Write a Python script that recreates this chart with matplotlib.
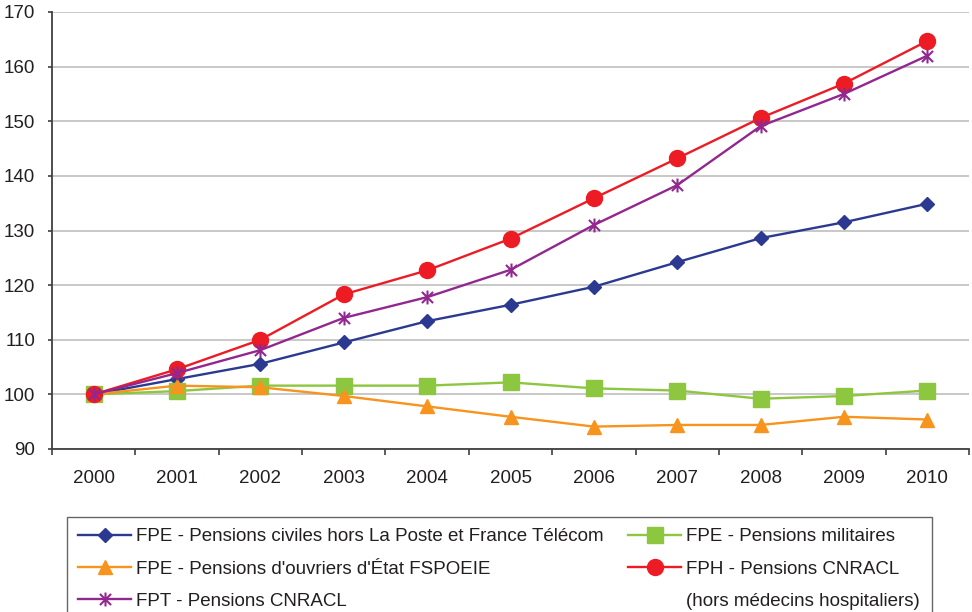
import numpy as np
import matplotlib
matplotlib.use("Agg")
from matplotlib import pyplot as plt
from matplotlib.path import Path
from matplotlib.lines import Line2D

plt.rcParams['font.family'] = ['Liberation Sans', 'DejaVu Sans']

# données (base 100 en 2000)
annees = ['2000', '2001', '2002', '2003', '2004', '2005', '2006', '2007', '2008', '2009', '2010']
fpe_civiles = [100, 102.8, 105.6, 109.5, 113.4, 116.4, 119.7, 124.2, 128.6, 131.5, 134.9]
fpe_militaires = [100, 100.6, 101.6, 101.6, 101.6, 102.2, 101.1, 100.7, 99.2, 99.7, 100.7]
fpe_ouvriers = [100, 101.6, 101.3, 99.7, 97.8, 95.9, 94.1, 94.4, 94.4, 95.9, 95.4]
fph_cnracl = [100, 104.6, 110.0, 118.3, 122.7, 128.5, 135.9, 143.2, 150.6, 156.9, 164.7]
fpt_cnracl = [100, 103.9, 108.1, 114.0, 117.8, 122.8, 131.0, 138.3, 149.1, 155.0, 162.0]

labels = ['FPE - Pensions civiles hors La Poste et France Télécom',
          'FPE - Pensions militaires',
          "FPE - Pensions d'ouvriers d'État FSPOEIE",
          'FPH - Pensions CNRACL',
          'FPT - Pensions CNRACL']
label_suite = '(hors médecins hospitaliers)'

yticks = [90, 100, 110, 120, 130, 140, 150, 160, 170]

# marqueur étoile façon Excel : X + trait vertical
etoile = Path([(-1, -1), (1, 1), (-1, 1), (1, -1), (0, -1.25), (0, 1.25)],
              [Path.MOVETO, Path.LINETO, Path.MOVETO, Path.LINETO, Path.MOVETO, Path.LINETO])

fig = plt.figure(figsize=(9.72, 6.12), dpi=100)
ax = fig.add_axes([52 / 972, 1 - 449 / 612, (969 - 52) / 972, (449 - 12) / 612])

x = np.arange(len(annees))
lw = 1.7
h_bleu, = ax.plot(x, fpe_civiles, '-', color='#2B3990', lw=lw, marker='D', ms=7.5, label=labels[0])
h_vert, = ax.plot(x, fpe_militaires, '-', color='#8DC63F', lw=lw, marker='s', ms=11.5, label=labels[1])
h_orange, = ax.plot(x, fpe_ouvriers, '-', color='#F7941D', lw=lw, marker='^', ms=10.5, label=labels[2])
h_rouge, = ax.plot(x, fph_cnracl, '-', color='#ED1C24', lw=lw, marker='o', ms=11.5, label=labels[3])
h_violet, = ax.plot(x, fpt_cnracl, '-', color='#92278F', lw=lw, marker=etoile, ms=10,
                    markeredgewidth=1.5, label=labels[4])

ax.set_xlim(-0.5, len(annees) - 0.5)
ax.set_ylim(90, 170)
ax.set_yticks(yticks)
ax.yaxis.grid(True, color='#C4C4C4', lw=1.3)
ax.set_axisbelow(True)

# axe des catégories : graduations entre les années, libellés au centre
ax.set_xticks(np.arange(-0.5, len(annees), 1.0))
ax.set_xticklabels([])
ax.set_xticks(x, minor=True)
ax.set_xticklabels(annees, minor=True)
ax.tick_params(axis='x', which='major', length=4, width=1.2, color='#404040', direction='out')
ax.tick_params(axis='x', which='minor', length=0, pad=15, labelsize=13.5, labelcolor='#231F20')
ax.tick_params(axis='y', length=3, width=1.2, color='#404040', pad=9, labelsize=13.5,
               labelcolor='#231F20')

for s in ['top', 'right']:
    ax.spines[s].set_visible(False)
for s in ['left', 'bottom']:
    ax.spines[s].set_color('#404040')
    ax.spines[s].set_linewidth(1.3)

# légende : seconde ligne du libellé FPH en entrée sans symbole
vide = Line2D([], [], linestyle='none')
leg = fig.legend([h_bleu, h_orange, h_violet, h_vert, h_rouge, vide],
                 [labels[0], labels[2], labels[4], labels[1], labels[3], label_suite],
                 ncol=2, loc='upper left', bbox_to_anchor=(67 / 972, 1 - 517 / 612),
                 borderaxespad=0, fontsize=13.5, frameon=True, fancybox=False,
                 edgecolor='#404040', handlelength=2.8, handletextpad=0.3,
                 borderpad=0.6, labelspacing=0.8, columnspacing=1.3)
leg.get_frame().set_linewidth(1.0)
for t in leg.get_texts():
    t.set_color('#231F20')

plt.savefig('out.png', dpi=100)
